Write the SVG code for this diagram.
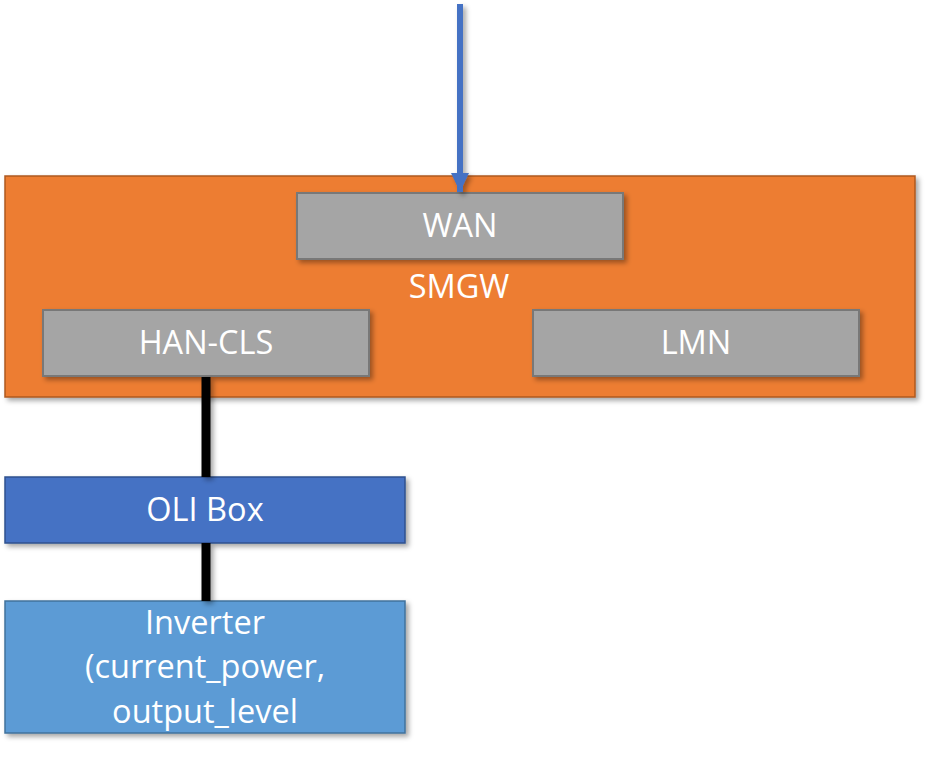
<svg xmlns="http://www.w3.org/2000/svg" width="929" height="770" viewBox="0 0 929 770">
<defs>
<filter id="sh" x="-10%" y="-10%" width="125%" height="130%">
<feDropShadow dx="3" dy="3" stdDeviation="2.5" flood-color="#000" flood-opacity="0.35"/>
</filter>
<marker id="ah" markerUnits="userSpaceOnUse" markerWidth="20" markerHeight="20" refX="19" refY="9" orient="auto">
<path d="M0,0 L19,9 L0,18 Z" fill="#4472C4"/>
</marker>
<style>
.t{font-family:"Open Sans","Noto Sans",sans-serif;font-size:32.5px;fill:#fff;text-anchor:middle}
.smgw{fill:#ED7D31;stroke:#AE5A21;stroke-width:1.5}
.gray{fill:#A5A5A5;stroke:#787878;stroke-width:2}
.oli{fill:#4472C4;stroke:#2F528F;stroke-width:1.5}
.inv{fill:#5B9BD5;stroke:#41719C;stroke-width:1.5}
.bl{stroke:#000;stroke-width:9;fill:none}
</style>
</defs>
<rect width="929" height="770" fill="#fff"/>
<g id="smgw">
<rect class="smgw" x="5" y="176" width="910" height="221" filter="url(#sh)"/>
<text class="t" x="459" y="298">SMGW</text>
</g>
<g id="wan">
<rect class="gray" x="297" y="193" width="326" height="66" filter="url(#sh)"/>
<text class="t" x="460" y="237">WAN</text>
</g>
<g id="han-cls">
<rect class="gray" x="43" y="310" width="326" height="66" filter="url(#sh)"/>
<text class="t" x="206" y="354">HAN-CLS</text>
</g>
<g id="lmn">
<rect class="gray" x="533" y="310" width="326" height="66" filter="url(#sh)"/>
<text class="t" x="696" y="354">LMN</text>
</g>
<g id="oli-box">
<rect class="oli" x="5" y="477" width="400" height="66" filter="url(#sh)"/>
<text class="t" x="205" y="521">OLI Box</text>
</g>
<g id="inverter">
<rect class="inv" x="5" y="601" width="400" height="132" filter="url(#sh)"/>
<text class="t" x="205" y="634">Inverter</text>
<text class="t" x="205" y="678">(current_power,</text>
<text class="t" x="205" y="723">output_level</text>
</g>
<g id="connectors" filter="url(#sh)">
<line x1="460" y1="4" x2="460" y2="192" stroke="#4472C4" stroke-width="6" marker-end="url(#ah)"/>
<line class="bl" x1="206" y1="377" x2="206" y2="477"/>
<line class="bl" x1="206" y1="543" x2="206" y2="601"/>
</g>
</svg>
